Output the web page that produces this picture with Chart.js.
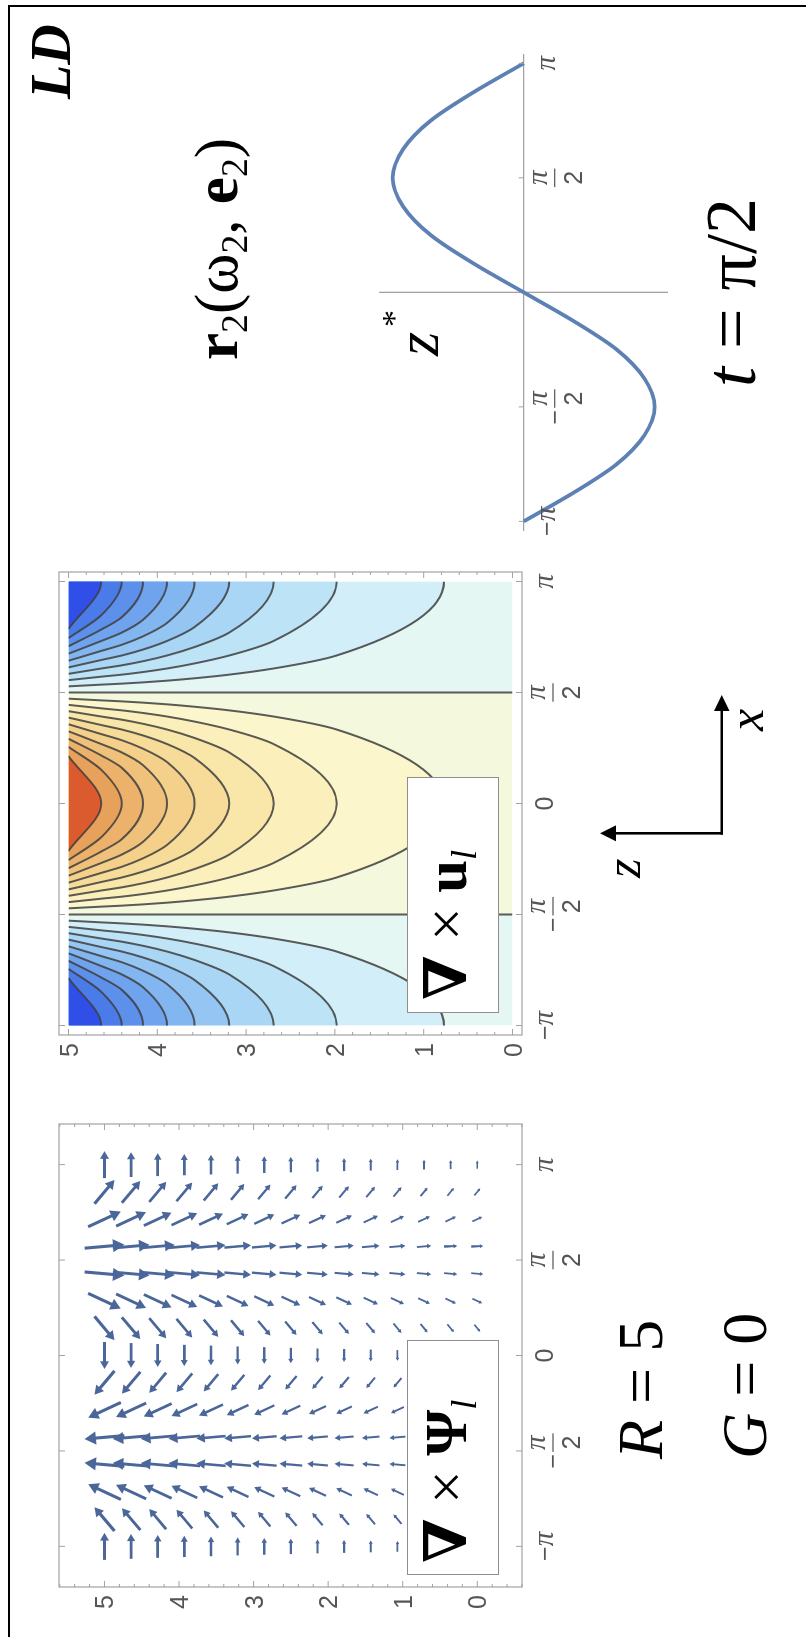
<!DOCTYPE html>
<html>
<head>
<meta charset="utf-8">
<title>Curl fields, R = 5, G = 0</title>
<script src="https://cdn.jsdelivr.net/npm/chart.js@4.4.1/dist/chart.umd.min.js"></script>
<style>
html, body { margin: 0; padding: 0; background: #fff; }
body { width: 806px; height: 1637px; overflow: hidden; position: relative; }
/* the figure is laid out landscape and then turned a quarter turn */
#sheet { position: absolute; left: 0; top: 0; width: 1637px; height: 806px; transform-origin: 0 0; transform: translate(0, 1637px) rotate(-90deg); background: #fff; }
#sheet canvas, #sheet svg { position: absolute; }
#border { position: absolute; left: -10px; top: 8.4px; width: 1642.4px; height: 830px; border-top: 2.7px solid #000; border-right: 2.7px solid #000; box-sizing: border-box; }
.t { position: absolute; font-family: "Liberation Serif", "DejaVu Serif", serif; line-height: 1; white-space: nowrap; color: #000; }
.sub { font-size: 0.62em; position: relative; top: 0.27em; }
.key { position: absolute; background: #fff; border: 1.5px solid #8e8e8e; box-sizing: border-box; }
</style>
</head>
<body>
<div id="sheet">
  <div id="border"></div>
  <canvas id="vec" width="533" height="543" style="left:0.3px; top:39.3px"></canvas>
  <canvas id="vort" width="533" height="543" style="left:552px; top:39.3px"></canvas>
  <canvas id="prof" width="496" height="308" style="left:1096.6px; top:369.8px"></canvas>

  <svg width="1637" height="806" style="left:0; top:0">
    <g stroke="#000" stroke-width="2.6" fill="none">
      <line x1="802.4" y1="721.7" x2="928" y2="721.7"/>
      <line x1="803.7" y1="723" x2="803.7" y2="614"/>
    </g>
    <polygon points="942,721.7 926,714 926,729.4" fill="#000"/>
    <polygon points="803.7,600 795.7,616 811.7,616" fill="#000"/>
  </svg>

  <div class="key" style="left:62px; top:407px; width:235px; height:92px"></div>
  <div class="t" style="left:74px; top:417px; font-size:59px"><b>∇</b> × <b>Ψ</b><span class="sub"><i>l</i></span></div>
  <div class="key" style="left:624px; top:407px; width:236px; height:92px"></div>
  <div class="t" style="left:637px; top:417px; font-size:59px"><b>∇</b> × <b>u</b><span class="sub"><i>l</i></span></div>

  <div class="t" style="left:178px; top:609px; font-size:64px"><i>R</i> = 5</div>
  <div class="t" style="left:178px; top:713px; font-size:64px"><i>G</i> = 0</div>

  <div class="t" style="left:906px; top:721px; font-size:50px"><i>x</i></div>
  <div class="t" style="left:759px; top:598px; font-size:50px"><i>z</i></div>

  <div class="t" style="left:1277px; top:186px; font-size:61px"><b>r</b><span class="sub">2</span>(ω<span class="sub">2</span>, <b>e</b><span class="sub">2</span>)</div>
  <div class="t" style="left:1281px; top:386px; font-size:62px"><i>z</i></div>
  <div class="t" style="left:1310px; top:377px; font-size:34px">*</div>
  <div class="t" style="left:1250px; top:695px; font-size:72px"><i>t</i> = π/2</div>
  <div class="t" style="left:1538px; top:23px; font-size:56px"><b><i>LD</i></b></div>
</div>

<script>
// ---------- data ----------
const xTickValues = [-3.1416, -1.5708, 0, 1.5708, 3.1416];
const xTickLabels = ['−π', '−π/2', '0', 'π/2', 'π'];
const zTickValues = [0, 1, 2, 3, 4, 5];

// ∇×Ψ arrows: grid in x and z, direction of each x row (degrees from +x),
// arrow length of each x row at z = 5 (px) and length factor of each z column
const gridX = [-3.1416, -2.6928, -2.2440, -1.7952, -1.3464, -0.8976, -0.4488, 0,
               0.4488, 0.8976, 1.3464, 1.7952, 2.2440, 2.6928, 3.1416];
const gridZ = [0, 0.357, 0.714, 1.071, 1.429, 1.786, 2.143, 2.5,
               2.857, 3.214, 3.571, 3.929, 4.286, 4.643, 5];
const arrowAngle = [0, 40, 65, 85, 95, 115, 140, 180, -140, -115, -95, -85, -65, -40, 0];
const arrowLength = [27, 31, 36, 40, 40, 36, 31, 27, 31, 36, 40, 40, 36, 31, 27];
const arrowScale = [0.30, 0.33, 0.36, 0.40, 0.44, 0.48, 0.52, 0.57, 0.62, 0.67, 0.73, 0.79, 0.85, 0.92, 1.0];

// ∇×u contours: levels (in contour steps), height z where each level crosses x = 0,
// value at the top centre (x = 0, z = 5)
const contourLevels = [1, 2, 3, 4, 5, 6, 7, 8, 9];
const crossZ = [0.77, 1.98, 2.69, 3.19, 3.58, 3.89, 4.16, 4.40, 4.63];
const topLevel = 11.5;
// band colours from the zero line outwards
const warmBands = ['#f4f9de', '#fcf6cc', '#fbefbb', '#f9e6a9', '#f7dc99', '#f4d08a', '#f0c17a', '#ecb26b', '#e7a15b', '#db5a2e'];
const coolBands = ['#e4f7f2', '#d2eef8', '#bde3f7', '#a9d6f5', '#95c6f3', '#82b6f0', '#6fa3ed', '#5d90ea', '#4a7be8', '#2f4fe8'];

// profile z*(x)
const curveX = [-3.1416, -2.7489, -2.3562, -1.9635, -1.5708, -1.1781, -0.7854, -0.3927, 0,
                0.3927, 0.7854, 1.1781, 1.5708, 1.9635, 2.3562, 2.7489, 3.1416];
const curveZ = [0, -0.38, -0.71, -0.92, -1, -0.92, -0.71, -0.38, 0,
                0.38, 0.71, 0.92, 1, 0.92, 0.71, 0.38, 0];

// ---------- styles ----------
const FRAME = '#a2a2a2';
const LABEL = '#555';
const ARROW = '#4b6799';
const CONTOUR = 'rgba(62,62,62,0.85)';
const CURVE = '#5e81b5';
const NUM_FONT = '25px "Liberation Sans", "DejaVu Sans", sans-serif';
const PI_FONT = 'italic 29px "Liberation Serif", "DejaVu Serif", serif';

function runs(text) {
  return [...text].map(ch => ({ch: ch, font: ch === 'π' ? PI_FONT : NUM_FONT}));
}
function textWidth(ctx, text) {
  let w = 0;
  runs(text).forEach(r => { ctx.font = r.font; w += ctx.measureText(r.ch).width; });
  return w;
}
function drawRun(ctx, text, x, baseline) {
  runs(text).forEach(r => {
    ctx.font = r.font;
    ctx.fillText(r.ch, x, baseline);
    x += ctx.measureText(r.ch).width;
  });
}

// tick label around (cx, cy); "a/b" is set as a stacked fraction
function drawTickLabel(ctx, label, cx, cy, alignRight) {
  ctx.fillStyle = LABEL;
  ctx.textAlign = 'left';
  ctx.textBaseline = 'alphabetic';
  let sign = '', body = label;
  if (label.indexOf('/') > 0 && label[0] === '−') { sign = '−'; body = label.slice(1); }
  if (body.indexOf('/') < 0) {
    const w = textWidth(ctx, label);
    drawRun(ctx, label, alignRight ? cx - w : cx - w / 2, cy + 9);
    return;
  }
  const parts = body.split('/');
  const barY = cy + 9;
  const sw = sign ? textWidth(ctx, sign) + 2 : 0;
  const fw = Math.max(textWidth(ctx, parts[0]), textWidth(ctx, parts[1])) + 4;
  const x0 = cx - (sw + fw) / 2;
  if (sign) drawRun(ctx, sign, x0, barY + 8);
  const fx = x0 + sw;
  ctx.fillRect(fx, barY - 0.6, fw, 1.2);
  drawRun(ctx, parts[0], fx + (fw - textWidth(ctx, parts[0])) / 2, barY - 8);
  drawRun(ctx, parts[1], fx + (fw - textWidth(ctx, parts[1])) / 2, barY + 27);
}

// frame (pad px outside the plot area), inward ticks, bottom / left labels
const frameTicks = {
  id: 'frameTicks',
  afterDraw(chart, args, opts) {
    const {ctx, chartArea: a} = chart;
    const x = chart.scales.x, y = chart.scales.y;
    const pad = opts.pad || 0;
    const L = a.left - pad, R = a.right + pad, T = a.top - pad, B = a.bottom + pad;
    ctx.save();
    ctx.strokeStyle = FRAME;
    ctx.lineWidth = 1.2;
    ctx.strokeRect(L, T, R - L, B - T);
    ctx.lineWidth = 1;
    ctx.beginPath();
    xTickValues.forEach(v => {
      const p = x.getPixelForValue(v);
      ctx.moveTo(p, B); ctx.lineTo(p, B - 6);
      ctx.moveTo(p, T); ctx.lineTo(p, T + 6);
    });
    const zLo = y.getValueForPixel(B), zHi = y.getValueForPixel(T);
    for (let k = Math.ceil(zLo * 5); k <= Math.floor(zHi * 5); k++) {
      const p = y.getPixelForValue(k / 5);
      const len = k % 5 === 0 ? 6 : 3;
      ctx.moveTo(L, p); ctx.lineTo(L + len, p);
      ctx.moveTo(R, p); ctx.lineTo(R - len, p);
    }
    ctx.stroke();
    xTickValues.forEach((v, i) => drawTickLabel(ctx, xTickLabels[i], x.getPixelForValue(v), B + 22));
    zTickValues.forEach(v => drawTickLabel(ctx, String(v), L - 8, y.getPixelForValue(v), true));
    ctx.restore();
  }
};

// ticks and labels on the x axis of the profile panel
const axisTicks = {
  id: 'axisTicks',
  afterDraw(chart) {
    const {ctx} = chart;
    const x = chart.scales.x, y = chart.scales.y;
    const y0 = y.getPixelForValue(0);
    ctx.save();
    ctx.strokeStyle = FRAME;
    ctx.lineWidth = 1;
    ctx.beginPath();
    xTickValues.forEach(v => {
      if (v === 0) return;
      const p = x.getPixelForValue(v);
      ctx.moveTo(p, y0); ctx.lineTo(p, y0 - 5);
    });
    ctx.stroke();
    xTickValues.forEach((v, i) => {
      if (v === 0) return;
      drawTickLabel(ctx, xTickLabels[i], x.getPixelForValue(v), y0 + 22);
    });
    ctx.restore();
  }
};

function edgeScale(pos, min, max) {
  const horizontal = pos === 'top' || pos === 'bottom';
  return {
    type: 'linear', position: pos, min: min, max: max,
    ticks: {display: false},
    grid: {drawOnChartArea: false, drawTicks: false},
    border: {display: false},
    afterFit(s) { if (horizontal) s.height = 0; else s.width = 0; }
  };
}

function frameOptions(xr, zr, padding, framePad) {
  return {
    responsive: false, animation: false, devicePixelRatio: 1, events: [],
    layout: {padding: padding, autoPadding: false},
    plugins: {legend: {display: false}, tooltip: {enabled: false}, frameTicks: {pad: framePad}},
    scales: {x: edgeScale('bottom', -xr, xr), y: edgeScale('left', zr[0], zr[1])}
  };
}

// ---------- ∇×Ψ arrows ----------
const VEC_X = 3.81, VEC_Z = [-0.60, 5.61];
const KX = 463 / (2 * VEC_X), KZ = 463 / (VEC_Z[1] - VEC_Z[0]);   // px per unit
const vecSets = [];
const heads = [], headR = [], headRot = [];
gridZ.forEach((z, j) => {
  const pts = [];
  gridX.forEach((x, i) => {
    const L = arrowLength[i] * arrowScale[j];
    const a = arrowAngle[i] * Math.PI / 180;
    const ux = Math.cos(a), uz = Math.sin(a);
    const r = Math.max(1.8, 0.19 * L);
    pts.push({x: x - ux * L / 2 / KX, y: z - uz * L / 2 / KZ});
    const neck = {x: x + ux * (L / 2 - r) / KX, y: z + uz * (L / 2 - r) / KZ};
    pts.push(neck, {x: x, y: null});
    heads.push(neck);
    headR.push(r);
    headRot.push(90 - arrowAngle[i]);
  });
  vecSets.push({
    data: pts, showLine: true, pointRadius: 0, borderColor: ARROW,
    borderWidth: 1.1 + 2.0 * arrowScale[j], borderCapStyle: 'butt', spanGaps: false
  });
});
vecSets.push({
  data: heads, pointStyle: 'triangle', pointRadius: headR, pointRotation: headRot,
  backgroundColor: ARROW, borderWidth: 0, pointBorderWidth: 0
});

new Chart(document.getElementById('vec'), {
  type: 'scatter',
  data: {datasets: vecSets},
  options: frameOptions(VEC_X, VEC_Z, {left: 50, top: 20, right: 20, bottom: 60}, 0),
  plugins: [frameTicks]
});

// ---------- ∇×u contours ----------
// contour of level m through the crossing heights of the higher levels, symmetric about x = 0
function warmContour(m) {
  const c = contourLevels[m];
  const right = [{x: 0, y: crossZ[m]}];
  for (let n = m + 1; n < contourLevels.length; n++) {
    right.push({x: Math.acos(c / contourLevels[n]), y: crossZ[n]});
  }
  right.push({x: Math.acos(c / topLevel), y: 5});
  const left = right.slice(1).reverse().map(p => ({x: -p.x, y: p.y}));
  return left.concat(right);
}
// negative levels: the same contour shifted by ±π, cut by the plot edge
function coolContour(m, side) {
  return warmContour(m).map(p => ({x: p.x + side * Math.PI, y: p.y}));
}

const H = Math.PI / 2;
const vortSets = [
  {data: [{x: -H, y: 0}, {x: H, y: 0}], showLine: true, pointRadius: 0,
   borderColor: 'rgba(0,0,0,0)', fill: {value: 5}, backgroundColor: warmBands[0], order: 60},
  {data: [{x: -Math.PI, y: 0}, {x: -H, y: 0}], showLine: true, pointRadius: 0,
   borderColor: 'rgba(0,0,0,0)', fill: {value: 5}, backgroundColor: coolBands[0], order: 60},
  {data: [{x: H, y: 0}, {x: Math.PI, y: 0}], showLine: true, pointRadius: 0,
   borderColor: 'rgba(0,0,0,0)', fill: {value: 5}, backgroundColor: coolBands[0], order: 60}
];
contourLevels.forEach((c, m) => {
  const common = {showLine: true, pointRadius: 0, borderColor: CONTOUR, borderWidth: 2, clip: 0,
                  cubicInterpolationMode: 'monotone', fill: {value: 5}, order: 40 - m};
  vortSets.push(Object.assign({data: warmContour(m), backgroundColor: warmBands[m + 1]}, common));
  vortSets.push(Object.assign({data: coolContour(m, 1), backgroundColor: coolBands[m + 1]}, common));
  vortSets.push(Object.assign({data: coolContour(m, -1), backgroundColor: coolBands[m + 1]}, common));
});
[-H, H].forEach(x0 => {
  vortSets.push({data: [{x: x0, y: 0}, {x: x0, y: 5}], showLine: true, pointRadius: 0,
                 borderColor: CONTOUR, borderWidth: 2, order: 0});
});

new Chart(document.getElementById('vort'), {
  type: 'scatter',
  data: {datasets: vortSets},
  options: frameOptions(Math.PI, [0, 5], {left: 59.5, top: 29.5, right: 29.5, bottom: 69.5}, 9.5),
  plugins: [frameTicks]
});

// ---------- profile z*(x) ----------
new Chart(document.getElementById('prof'), {
  type: 'scatter',
  data: {
    datasets: [{
      data: curveX.map((x, i) => ({x: x, y: curveZ[i]})),
      showLine: true, pointRadius: 0, borderColor: CURVE, borderWidth: 3.8,
      cubicInterpolationMode: 'monotone'
    }]
  },
  options: {
    responsive: false, animation: false, devicePixelRatio: 1, events: [],
    layout: {padding: {left: 10, top: 10, right: 10.7, bottom: 10.6}, autoPadding: false},
    plugins: {legend: {display: false}, tooltip: {enabled: false}},
    scales: {
      x: {type: 'linear', min: -3.26, max: 3.26, position: {y: 0},
          ticks: {display: false}, grid: {drawOnChartArea: false, drawTicks: false},
          border: {display: true, color: FRAME, width: 1.3}},
      y: {type: 'linear', min: -1.097, max: 1.097, position: {x: 0},
          ticks: {display: false}, grid: {drawOnChartArea: false, drawTicks: false},
          border: {display: true, color: FRAME, width: 1.3}}
    }
  },
  plugins: [axisTicks]
});
</script>
</body>
</html>
